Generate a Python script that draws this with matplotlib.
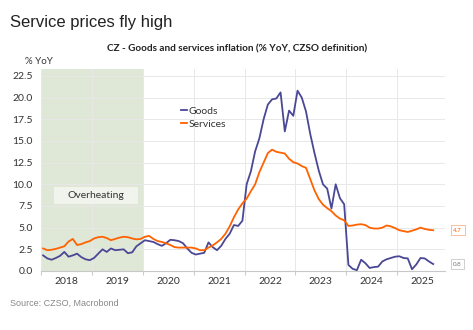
import numpy as np
import matplotlib
matplotlib.use('Agg')
from matplotlib import pyplot as plt
from matplotlib.patches import Rectangle

# monthly YoY, Jan 2018 .. Sep 2025
start_year = 2018
goods = [1.8, 1.45, 1.3, 1.5, 1.75, 2.2, 1.65, 1.8, 2.0, 1.6, 1.35, 1.25,
         1.5, 2.0, 2.5, 2.2, 2.6, 2.4, 2.45, 2.5, 2.05, 2.15, 2.85, 3.2,
         3.55, 3.45, 3.35, 3.1, 2.9, 3.2, 3.6, 3.55, 3.45, 3.2, 2.6, 2.1,
         1.9, 2.0, 2.1, 3.3, 2.75, 2.4, 2.9, 3.7, 4.3, 5.3, 5.2, 5.8,
         10.0, 11.5, 13.8, 15.3, 17.5, 19.2, 19.8, 19.9, 20.6, 16.1, 18.5, 17.9,
         20.8, 20.0, 18.4, 15.8, 13.6, 11.6, 10.0, 9.5, 7.2, 10.0, 8.4, 7.7,
         0.7, 0.25, 0.1, 1.3, 0.9, 0.35, 0.45, 0.5, 1.1, 1.35, 1.5, 1.65,
         1.7, 1.5, 1.45, 0.2, 0.75, 1.5, 1.45, 1.1, 0.8]
services = [2.6, 2.4, 2.45, 2.55, 2.7, 2.85, 3.4, 3.7, 3.0, 3.1, 3.3, 3.45,
            3.75, 3.9, 3.95, 3.8, 3.55, 3.7, 3.85, 3.95, 3.9, 3.75, 3.65, 3.7,
            3.95, 4.05, 3.7, 3.45, 3.35, 3.2, 3.0, 2.75, 2.7, 2.7, 2.7, 2.7,
            2.6, 2.4, 2.4, 2.7, 2.95, 3.3, 3.7, 4.3, 5.15, 6.2, 7.1, 7.8,
            8.35, 9.2, 10.0, 11.4, 12.5, 13.6, 14.0, 13.75, 13.65, 13.55, 12.95, 12.55,
            12.4, 12.1, 11.9, 10.6, 9.3, 8.3, 7.65, 7.25, 6.9, 6.4, 6.05, 5.85,
            5.2, 5.25, 5.35, 5.4, 5.3, 5.0, 4.9, 4.9, 5.0, 5.25, 5.15, 4.95,
            4.7, 4.6, 4.5, 4.65, 4.8, 5.0, 4.85, 4.75, 4.7]
years = [2018, 2019, 2020, 2021, 2022, 2023, 2024, 2025]
yticks = [0.0, 2.5, 5.0, 7.5, 10.0, 12.5, 15.0, 17.5, 20.0, 22.5]
overheat = (2018, 2020)

c_goods = '#4a4795'
c_serv = '#ff6200'
c_text = '#333333'

t = start_year + (np.arange(len(goods)) + 0.5) / 12.0

plt.rcParams['font.family'] = ['Lato', 'DejaVu Sans']

fig = plt.figure(figsize=(4.73, 3.30), dpi=100)
ax = fig.add_axes([41/473, 1 - 271/330, 404/473, 202/330])

ax.axvspan(overheat[0], overheat[1], color='#dfe7d6', lw=0, zorder=0)
ax.plot(t, goods, color=c_goods, lw=1.3, zorder=3, label='Goods')
ax.plot(t, services, color=c_serv, lw=1.3, zorder=3, label='Services')

ax.set_xlim(2018, 2025.94)
ax.set_ylim(0, 23.3)
ax.set_yticks(yticks)
ax.set_yticklabels(['%.1f' % v for v in yticks], fontsize=7.5, color=c_text)
ax.set_xticks(years)
ax.set_xticklabels([])
ax.set_xticks([y + 0.5 for y in years], minor=True)
ax.set_xticklabels([str(y) for y in years], minor=True, fontsize=7.5, color=c_text)
ax.tick_params(axis='x', which='major', length=3, color='#cccccc')
ax.tick_params(axis='x', which='minor', length=0, pad=4)
ax.tick_params(axis='y', length=0, pad=6)
ax.grid(True, which='major', color='#e8e8e8', lw=0.7, zorder=1)
for s in ['top', 'right', 'left']:
    ax.spines[s].set_visible(False)
ax.spines['bottom'].set_color('#c8c8c8')
ax.spines['bottom'].set_linewidth(0.8)

# label box inside the shaded period
ax.add_patch(Rectangle((2018.26, 7.73), 1.65, 1.96, fc='#f1f4ed', ec='none', zorder=2))
ax.text(2019.08, 8.7, 'Overheating', ha='center', va='center', fontsize=7.5,
        color=c_text, zorder=4)

leg = ax.legend(loc='upper left', bbox_to_anchor=(0.335, 0.835), frameon=False, fontsize=7.5,
                handlelength=0.6, handletextpad=0.2, labelspacing=0.35, borderaxespad=0)
for txt in leg.get_texts():
    txt.set_color(c_text)

# last value tags
ax.annotate('%.1f' % services[-1], xy=(1.0, services[-1]), xycoords=('axes fraction', 'data'),
            xytext=(6, 0), textcoords='offset points', fontsize=4.5, color=c_serv,
            va='center', ha='left', annotation_clip=False,
            bbox=dict(boxstyle='square,pad=0.4', fc='white', ec='#f7b58a', lw=0.6))
ax.annotate('%.1f' % goods[-1], xy=(1.0, goods[-1]), xycoords=('axes fraction', 'data'),
            xytext=(6, 0), textcoords='offset points', fontsize=4.5, color='#777777',
            va='center', ha='left', annotation_clip=False,
            bbox=dict(boxstyle='square,pad=0.4', fc='white', ec='#c8c8c8', lw=0.6))

fig.text(10/473, 1 - 22/330, 'Service prices fly high', fontsize=12, color='#222222',
         family='Liberation Sans', va='center', ha='left')
fig.text(237/473, 1 - 49/330, 'CZ - Goods and services inflation (% YoY, CZSO definition)',
         fontsize=7.2, fontweight='bold', color='#222222', ha='center', va='center')
fig.text(25/473, 1 - 62/330, '% YoY', fontsize=7, color=c_text, ha='left', va='center')
fig.text(10/473, 1 - 303/330, 'Source: CZSO, Macrobond', fontsize=6.5, color='#888888',
         family='Liberation Sans', ha='left', va='center')

fig.savefig('out.png', dpi=100)
